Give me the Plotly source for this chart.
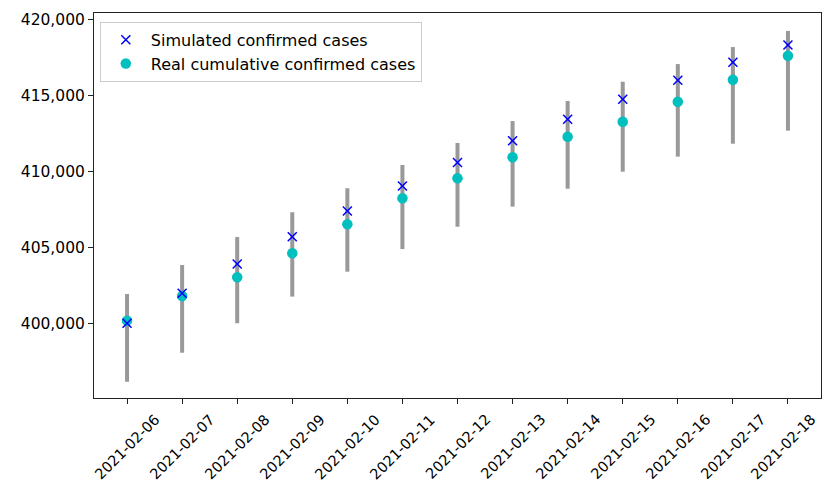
import plotly.graph_objects as go

# Daily dates shown on the x axis
dates = ["2021-02-06", "2021-02-07", "2021-02-08", "2021-02-09", "2021-02-10",
         "2021-02-11", "2021-02-12", "2021-02-13", "2021-02-14", "2021-02-15",
         "2021-02-16", "2021-02-17", "2021-02-18"]

# Model output (crosses)
simulated = [400050, 402020, 403950, 405740, 407430, 409080, 410620,
             412060, 413470, 414780, 416030, 417220, 418350]

# Observed cumulative cases (dots)
real = [400220, 401840, 403070, 404650, 406560, 408270, 409590,
        410970, 412320, 413300, 414620, 416070, 417650]

# Interval of the simulation for each day
lower = [396200, 398110, 400050, 401800, 403440, 404930, 406400,
         407720, 408900, 410020, 411010, 411860, 412720]
upper = [401970, 403880, 405720, 407350, 408930, 410460, 411910,
         413350, 414670, 415940, 417100, 418220, 419280]

FONT = "DejaVu Sans"

# vertical interval segments, one per date
seg_x, seg_y = [], []
for d, lo, hi in zip(dates, lower, upper):
    seg_x += [d, d, None]
    seg_y += [lo, hi, None]

fig = go.Figure()
fig.add_trace(go.Scatter(
    x=seg_x, y=seg_y, mode="lines",
    line=dict(color="#999999", width=4),
    showlegend=False, hoverinfo="skip"))
fig.add_trace(go.Scatter(
    x=dates, y=real, mode="markers", name="Real cumulative confirmed cases",
    marker=dict(symbol="circle", size=10.5, color="#00bfbf",
                line=dict(width=0)),
    legendrank=2))
fig.add_trace(go.Scatter(
    x=dates, y=simulated, mode="markers", name="Simulated confirmed cases",
    marker=dict(symbol="x-thin", size=9, color="blue",
                line=dict(width=1.5, color="blue")),
    legendrank=1))

# rotated date labels centred under each tick; the last one is nudged
# left so it stays inside the page
for i, d in enumerate(dates):
    fig.add_annotation(
        x=d, y=0, xref="x", yref="paper", yshift=-12,
        xshift=-5 if i == len(dates) - 1 else 0,
        text=d, showarrow=False, textangle=-45,
        xanchor="center", yanchor="top", borderpad=0,
        font=dict(family=FONT, size=14.5, color="black"))

fig.update_layout(
    width=822, height=486,
    margin=dict(l=94, r=1, t=13, b=88),
    paper_bgcolor="white", plot_bgcolor="white",
    font=dict(family=FONT, size=15, color="black"),
    legend=dict(x=0.008, y=0.977, xanchor="left", yanchor="top",
                bgcolor="rgba(255,255,255,0.8)", bordercolor="#cccccc",
                borderwidth=1, font=dict(family=FONT, size=16),
                itemwidth=40, tracegroupgap=0),
    xaxis=dict(
        type="category", range=[-0.6, 12.6],
        showgrid=False, zeroline=False,
        showline=True, linecolor="#222222", linewidth=1, mirror=True,
        ticks="outside", ticklen=5, tickcolor="#222222", tickwidth=1,
        showticklabels=False),
    yaxis=dict(
        range=[395130, 420460],
        tickvals=[400000, 405000, 410000, 415000, 420000],
        tickformat=",", showgrid=False, zeroline=False,
        showline=True, linecolor="#222222", linewidth=1, mirror=True,
        ticks="outside", ticklen=5, tickcolor="#222222", tickwidth=1,
        tickfont=dict(family=FONT, size=15.5)),
)

fig.write_html("out.html")
